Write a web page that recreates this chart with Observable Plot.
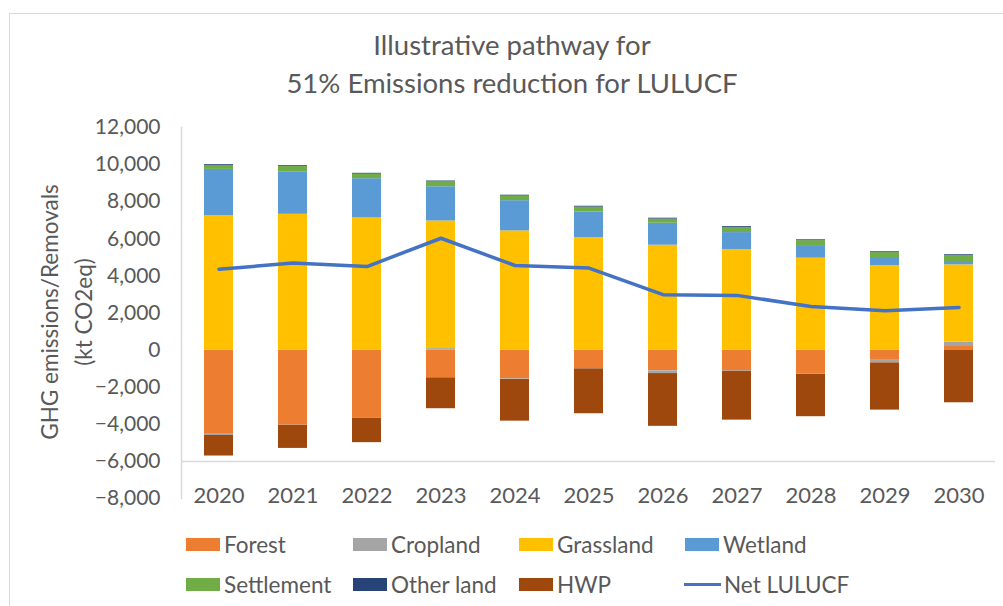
<!DOCTYPE html>
<html>
<head>
<meta charset="utf-8">
<script src="https://cdn.jsdelivr.net/npm/d3@7"></script>
<script src="https://cdn.jsdelivr.net/npm/@observablehq/plot@0.6"></script>
<style>
  html, body { margin: 0; padding: 0; background: #fff; overflow: hidden; }
  body { width: 1003px; height: 606px; position: relative; font-family: Lato, "Open Sans", sans-serif; color: #595959; }
  #frame { position: absolute; left: 9px; top: 13px; width: 1000px; height: 600px; border-left: 1px solid #D9D9D9; border-top: 1px solid #D9D9D9; }
  #title { position: absolute; left: 0; top: 26px; width: 1024px; text-align: center; font-size: 27.5px; line-height: 38px; color: #595959; }
  #chart { position: absolute; left: 0; top: 110px; }
  .ylab { position: absolute; white-space: nowrap; font-size: 22.5px; color: #595959; transform: translate(-50%, -50%) rotate(-90deg); }
  .leg { position: absolute; font-size: 22.5px; color: #595959; display: flex; align-items: center; white-space: nowrap; }
  .sw { display: inline-block; width: 34px; height: 13px; margin-right: 4px; }
  .ln { display: inline-block; width: 37px; height: 3px; margin-right: 3px; }
</style>
</head>
<body>
<div id="frame"></div>
<div id="title">Illustrative pathway for<br>51% Emissions reduction for LULUCF</div>
<div class="ylab" style="left:49px; top:312px;">GHG emissions/Removals</div>
<div class="ylab" style="left:83px; top:312px;">(kt CO2eq)</div>
<div id="chart"></div>
<div id="legend"></div>
<script>
const years = ["2020","2021","2022","2023","2024","2025","2026","2027","2028","2029","2030"];
const seriesNames = ["Forest","Cropland","Grassland","Wetland","Settlement","Other land","HWP"];
const seriesColors = ["#ED7D31","#A5A5A5","#FFC000","#5B9BD5","#70AD47","#264478","#9E480E"];
const forest     = [-4500,-4050,-3650,-1495,-1555,-1000,-1120,-1110,-1305,-510, 240];
const cropland   = [ -100,  -10,  -15,   80,  -30,  -10, -145,  -30,  -10,-180, 180];
const grassland  = [ 7250, 7320, 7125, 6880, 6425, 6065, 5655, 5420, 4955,4545,4175];
const wetland    = [ 2490, 2290, 2115, 1845, 1630, 1380, 1185,  915,  680, 445, 180];
const settlement = [  210,  285,  245,  265,  250,  265,  225,  280,  265, 265, 320];
const otherLand  = [   45,   45,   45,   45,   45,   45,   45,   45,   45,  45,  45];
const hwp        = [-1110,-1240,-1325,-1665,-2245,-2420,-2845,-2635,-2275,-2545,-2840];
const netLULUCF  = [ 4360, 4690, 4505, 6030, 4560, 4420, 2985, 2950, 2355, 2125, 2300];
const yTicks = [-8000,-6000,-4000,-2000,0,2000,4000,6000,8000,10000,12000];

const seriesValues = [forest, cropland, grassland, wetland, settlement, otherLand, hwp];
const rows = [];
seriesNames.forEach((s, si) => years.forEach((y, i) => rows.push({year: y, series: s, value: seriesValues[si][i]})));
const netRows = years.map((y, i) => ({year: y, value: netLULUCF[i]}));

const fmt = d3.format(",");
const plot = Plot.plot({
  width: 1003,
  height: 410,
  marginTop: 17,
  marginBottom: 22,
  marginLeft: 181,
  marginRight: 8,
  style: {fontFamily: "Lato, 'Open Sans', sans-serif", fontSize: "21px", color: "#595959", background: "transparent"},
  x: {domain: years, paddingInner: 0.61, paddingOuter: 0.305, axis: null},
  y: {domain: [-8000, 12000], axis: null},
  color: {domain: seriesNames, range: seriesColors},
  marks: [
    Plot.ruleY([-6000], {stroke: "#D9D9D9", strokeWidth: 1.5}),
    Plot.frame({anchor: "left", stroke: "#D9D9D9", strokeWidth: 1.5}),
    Plot.barY(rows, {x: "year", y: "value", fill: "series", order: seriesNames}),
    Plot.lineY(netRows, {x: "year", y: "value", stroke: "#4472C4", strokeWidth: 3.5, strokeLinejoin: "round", strokeLinecap: "round"}),
    Plot.axisY({ticks: yTicks, tickSize: 0, tickPadding: 21, tickFormat: fmt, fill: "#595959", label: null}),
    Plot.axisX({anchor: "bottom", tickSize: 0, tickPadding: 0, dy: -11, fill: "#595959", fontSize: 22, label: null})
  ]
});
document.getElementById("chart").appendChild(plot);

const legendItems = [
  {name: "Forest", color: seriesColors[0], x: 186, y: 544, kind: "sw"},
  {name: "Cropland", color: seriesColors[1], x: 353, y: 544, kind: "sw"},
  {name: "Grassland", color: seriesColors[2], x: 519, y: 544, kind: "sw"},
  {name: "Wetland", color: seriesColors[3], x: 685, y: 544, kind: "sw"},
  {name: "Settlement", color: seriesColors[4], x: 186, y: 584, kind: "sw"},
  {name: "Other land", color: seriesColors[5], x: 353, y: 584, kind: "sw"},
  {name: "HWP", color: seriesColors[6], x: 519, y: 584, kind: "sw"},
  {name: "Net LULUCF", color: "#4472C4", x: 684, y: 584, kind: "ln"}
];
const leg = document.getElementById("legend");
legendItems.forEach(it => {
  const d = document.createElement("div");
  d.className = "leg";
  d.style.left = it.x + "px";
  d.style.top = (it.y - 15) + "px";
  d.style.height = "30px";
  d.innerHTML = `<span class="${it.kind}" style="background:${it.color}"></span>${it.name}`;
  leg.appendChild(d);
});
</script>
</body>
</html>
